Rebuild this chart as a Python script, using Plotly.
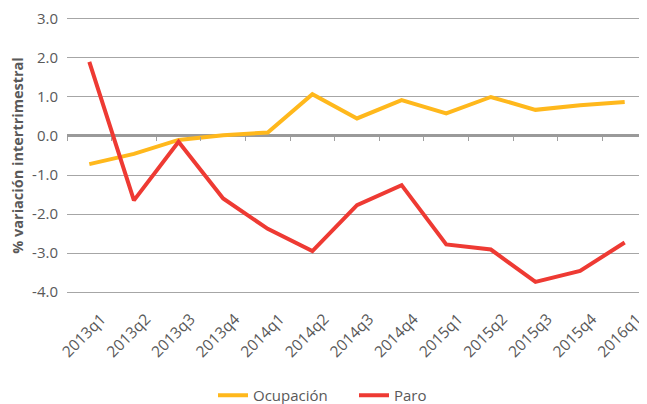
import plotly.graph_objects as go

quarters = ["2013q1", "2013q2", "2013q3", "2013q4", "2014q1", "2014q2", "2014q3",
            "2014q4", "2015q1", "2015q2", "2015q3", "2015q4", "2016q1"]
ocupacion = [-0.72, -0.46, -0.10, 0.02, 0.09, 1.07, 0.45, 0.92, 0.58, 1.00, 0.67, 0.79, 0.87]
paro = [1.90, -1.65, -0.15, -1.60, -2.38, -2.95, -1.77, -1.26, -2.78, -2.91, -3.74, -3.46, -2.73]
y_ticks = [3, 2, 1, 0, -1, -2, -3, -4]
y_labels = ["3.0", "2.0", "1.0", "0.0", "-1.0", "-2.0", "-3.0", "-4.0"]

FONT = "Open Sans, Noto Sans, sans-serif"
GREY = "#595959"
Y0, Y1 = -4.05, 3.05

fig = go.Figure()
fig.add_trace(go.Scatter(x=quarters, y=ocupacion, name="Ocupación", mode="lines",
                         line=dict(color="#FFB81C", width=4)))
fig.add_trace(go.Scatter(x=quarters, y=paro, name="Paro", mode="lines",
                         line=dict(color="#EE3A33", width=4)))
# invisible trace to carry the category tick axis that sits on the zero line
fig.add_trace(go.Scatter(x=quarters, y=[0] * len(quarters), xaxis="x2", mode="lines",
                         line=dict(width=0), showlegend=False, hoverinfo="skip"))

# page body has an 8px default margin, so the figure is 8px smaller each way
fig.update_layout(
    width=639, height=396,
    margin=dict(l=59, r=0, t=9, b=110, autoexpand=False),
    paper_bgcolor="white", plot_bgcolor="white",
    font=dict(family=FONT, color=GREY, size=14),
    showlegend=True,
    legend=dict(orientation="h", xref="container", yref="container",
                x=205 / 639, xanchor="left", y=1 - 371 / 396, yanchor="top",
                font=dict(size=15, color=GREY), entrywidth=96, entrywidthmode="pixels"),
    xaxis=dict(type="category", range=[-0.5, 12.5], showgrid=False, zeroline=False,
               tickangle=-45, ticks="", tickfont=dict(size=15.5, color=GREY),
               ticklabelshift=12, ticklabelstandoff=12, showline=False),
    xaxis2=dict(type="category", range=[-0.5, 12.5], overlaying="x", anchor="free",
                position=(0 - Y0) / (Y1 - Y0), showticklabels=False, ticks="outside",
                ticklen=4, tickwidth=1, tickcolor="#a0a0a0", tickson="boundaries",
                showgrid=False, zeroline=False, showline=False),
    yaxis=dict(range=[Y0, Y1], tickvals=y_ticks, ticktext=y_labels,
               showgrid=True, gridcolor="#a6a6a6", gridwidth=1,
               zeroline=True, zerolinecolor="#9a9a9a", zerolinewidth=2.5,
               ticks="", ticklabelstandoff=8, tickfont=dict(size=15, color=GREY),
               title=dict(text="<b>% variación intertrimestral</b>", standoff=10,
                          font=dict(size=14.5, color=GREY))),
)

fig.write_html("out.html")
